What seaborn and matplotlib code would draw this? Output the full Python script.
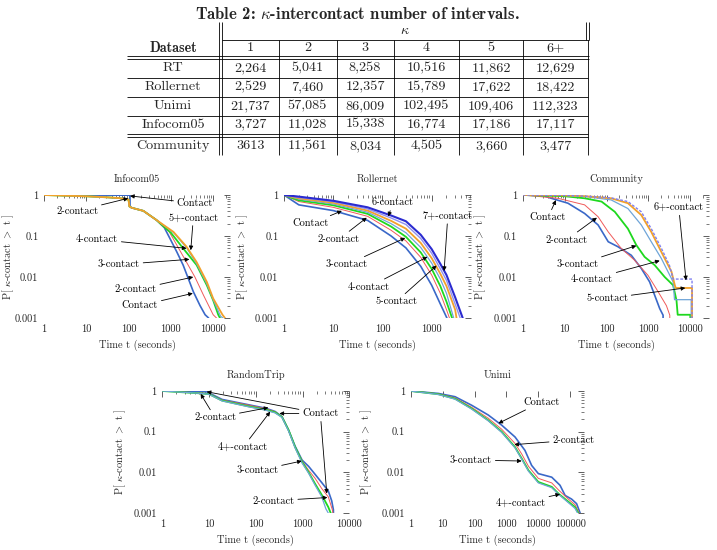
import numpy as np
import matplotlib
matplotlib.use('Agg')
import matplotlib.pyplot as plt
import seaborn as sns
from matplotlib.ticker import LogLocator, NullFormatter

# ---- table ----
table_title = r'Table 2: $\kappa$-intercontact number of intervals.'
table_datasets = ['RT', 'Rollernet', 'Unimi', 'Infocom05', 'Community']
table_kappa = ['1', '2', '3', '4', '5', '6+']
table_rt = ['2,264', '5,041', '8,258', '10,516', '11,862', '12,629']
table_rollernet = ['2,529', '7,460', '12,357', '15,789', '17,622', '18,422']
table_unimi = ['21,737', '57,085', '86,009', '102,495', '109,406', '112,323']
table_infocom = ['3,727', '11,028', '15,338', '16,774', '17,186', '17,117']
table_community = ['3613', '11,561', '8,034', '4,505', '3,660', '3,477']

# ---- Infocom05 curves (t seconds, P[k-contact > t]) ----
info_t1 = [1, 100, 108, 108, 117, 224, 457, 700, 950, 1380, 1950, 3390, 4900, 6450, 7800, 7800]
info_p1 = [1, 0.99, 0.99, 0.53, 0.49, 0.41, 0.245, 0.16, 0.087, 0.041, 0.0195, 0.0044, 0.002, 0.0012, 0.001, 0.0001]
info_t2 = [1, 10, 30, 60, 100, 104, 117, 224, 457, 900, 1620, 3700, 5900, 10000, 12000, 12000]
info_p2 = [1, 0.93, 0.88, 0.84, 0.77, 0.53, 0.49, 0.41, 0.245, 0.13, 0.045, 0.01, 0.0036, 0.0012, 0.001, 0.0001]
info_t3 = [1, 10, 30, 60, 100, 104, 117, 224, 457, 1000, 1950, 4070, 7080, 10000, 13200, 14500, 14500]
info_p3 = [1, 0.93, 0.88, 0.84, 0.77, 0.53, 0.49, 0.41, 0.245, 0.12, 0.05, 0.0195, 0.0063, 0.0027, 0.0012, 0.001, 0.0001]
info_t4 = [1, 10, 30, 60, 100, 104, 117, 224, 457, 1150, 2340, 4070, 7080, 10000, 15000, 17000, 17000]
info_p4 = [1, 0.93, 0.88, 0.84, 0.77, 0.53, 0.49, 0.41, 0.245, 0.122, 0.052, 0.021, 0.0068, 0.0028, 0.0011, 0.001, 0.0001]
info_t5 = [1, 10, 30, 60, 100, 104, 117, 224, 457, 1150, 2340, 4070, 7080, 10000, 16600, 19000, 19000]
info_p5 = [1, 0.93, 0.88, 0.84, 0.77, 0.53, 0.49, 0.41, 0.245, 0.126, 0.055, 0.023, 0.0076, 0.003, 0.0012, 0.001, 0.0001]

# ---- Rollernet curves ----
roll_t1 = [1, 2, 10, 50, 150, 300, 600, 1000, 1500, 2040, 2040]
roll_p1 = [1, 0.575, 0.417, 0.24, 0.1, 0.0513, 0.0182, 0.0063, 0.0022, 0.001, 0.0001]
roll_t2 = [1, 2, 10, 50, 150, 300, 600, 1000, 1500, 2000, 2300, 2300]
roll_p2 = [1, 0.692, 0.501, 0.302, 0.138, 0.0759, 0.0302, 0.0112, 0.004, 0.0016, 0.001, 0.0001]
roll_t3 = [1, 2, 10, 50, 150, 300, 600, 1000, 1500, 2000, 2600, 2600]
roll_p3 = [1, 0.741, 0.562, 0.347, 0.17, 0.0955, 0.0398, 0.0158, 0.006, 0.0025, 0.001, 0.0001]
roll_t4 = [1, 2, 10, 50, 150, 300, 600, 1000, 1500, 2000, 2800, 2800]
roll_p4 = [1, 0.794, 0.603, 0.38, 0.2, 0.12, 0.0525, 0.0219, 0.0089, 0.004, 0.001, 0.0001]
roll_t5 = [1, 2, 10, 50, 150, 300, 600, 1000, 1500, 2000, 3000, 3200, 3200]
roll_p5 = [1, 0.832, 0.646, 0.417, 0.234, 0.151, 0.0676, 0.0288, 0.012, 0.006, 0.0016, 0.001, 0.0001]
roll_t6 = [1, 2, 10, 50, 150, 300, 600, 1000, 1500, 2000, 3000, 3800, 3800]
roll_p6 = [1, 0.871, 0.692, 0.457, 0.275, 0.191, 0.087, 0.038, 0.0158, 0.0083, 0.0022, 0.001, 0.0001]
roll_t7 = [1, 2, 10, 50, 150, 300, 600, 1000, 1500, 2000, 3000, 4270, 4270]
roll_p7 = [1, 0.912, 0.724, 0.501, 0.316, 0.229, 0.107, 0.0479, 0.0209, 0.0112, 0.0032, 0.001, 0.0001]

# ---- Community curves ----
comm_t1 = [1, 3.2, 4.8, 12, 30, 63, 110, 186, 390, 676, 1070, 1410, 1860, 2240, 2240]
comm_p1 = [1, 0.955, 0.832, 0.631, 0.355, 0.186, 0.0724, 0.055, 0.0339, 0.0162, 0.0076, 0.0036, 0.0017, 0.00117, 0.0001]
comm_t2 = [1, 6.9, 30, 63, 110, 224, 468, 977, 1700, 2690, 3240, 3240]
comm_p2 = [1, 0.832, 0.575, 0.295, 0.126, 0.05, 0.0257, 0.011, 0.0044, 0.002, 0.00117, 0.0001]
comm_t3 = [1, 10, 30, 76, 158, 324, 513, 813, 1410, 2450, 3890, 4680, 5000, 10000, 10000]
comm_p3 = [1, 0.933, 0.832, 0.692, 0.389, 0.151, 0.0603, 0.0309, 0.0195, 0.01, 0.0063, 0.0027, 0.0012, 0.0012, 0.0001]
comm_t4 = [1, 10, 32, 129, 324, 676, 1170, 2040, 3890, 4200, 10500, 10500]
comm_p4 = [1, 0.977, 0.912, 0.759, 0.468, 0.186, 0.0724, 0.0282, 0.0076, 0.0028, 0.0028, 0.0001]
comm_t5 = [1, 10, 32, 129, 324, 676, 1170, 2040, 3550, 4270, 4500, 11000, 11000]
comm_p5 = [1, 0.977, 0.933, 0.832, 0.631, 0.324, 0.126, 0.0407, 0.0135, 0.0063, 0.0054, 0.0054, 0.0001]
comm_t6 = [1, 10, 32, 129, 324, 676, 1170, 2040, 3160, 3890, 11000, 11000]
comm_p6 = [1, 0.977, 0.933, 0.851, 0.692, 0.389, 0.151, 0.05, 0.0195, 0.0089, 0.0089, 0.0001]

# ---- RandomTrip curves ----
rt_t1 = [1, 6, 9, 19, 69, 158, 257, 363, 501, 692, 977, 1350, 1860, 2570, 3550, 4200, 4570, 4570]
rt_p1 = [1, 0.97, 0.95, 0.62, 0.46, 0.38, 0.315, 0.234, 0.11, 0.044, 0.02, 0.014, 0.0089, 0.0056, 0.0035, 0.002, 0.0012, 0.0001]
rt_t2 = [1, 6, 10, 19, 69, 158, 257, 363, 501, 692, 977, 1350, 1860, 2570, 3550, 4370, 4470, 4470]
rt_p2 = [1, 0.9, 0.86, 0.6, 0.45, 0.37, 0.31, 0.234, 0.11, 0.042, 0.019, 0.0112, 0.0071, 0.004, 0.0025, 0.00117, 0.001, 0.0001]
rt_t3 = [1, 6, 10, 19, 69, 158, 257, 363, 501, 692, 977, 1350, 1860, 2570, 3550, 4000, 4000]
rt_p3 = [1, 0.88, 0.84, 0.58, 0.42, 0.35, 0.3, 0.23, 0.11, 0.042, 0.018, 0.01, 0.0052, 0.0028, 0.0014, 0.001, 0.0001]
rt_t4 = [1, 6, 10, 19, 69, 158, 257, 363, 501, 692, 977, 1350, 1860, 2570, 3160, 3550, 3550]
rt_p4 = [1, 0.88, 0.83, 0.57, 0.41, 0.34, 0.29, 0.225, 0.105, 0.04, 0.017, 0.0095, 0.0048, 0.0025, 0.00126, 0.001, 0.0001]

# ---- Unimi curves ----
un_t1 = [1, 7.4, 24.5, 81, 269, 708, 1860, 3800, 6170, 10000, 26300, 47900, 69200, 110000, 158000, 204000, 204000]
un_p1 = [1, 0.87, 0.724, 0.447, 0.257, 0.145, 0.074, 0.0347, 0.0148, 0.0093, 0.0076, 0.0048, 0.0027, 0.0022, 0.0017, 0.001, 0.0001]
un_t2 = [1, 7.4, 24.5, 81, 269, 708, 1860, 3020, 4900, 10000, 26300, 42700, 87000, 141000, 190000, 190000]
un_p2 = [1, 0.851, 0.676, 0.398, 0.214, 0.115, 0.0513, 0.0282, 0.0141, 0.0071, 0.0055, 0.0037, 0.0022, 0.0016, 0.001, 0.0001]
un_t3 = [1, 7.4, 24.5, 81, 269, 708, 1860, 3020, 4900, 10000, 26300, 42700, 87000, 141000, 178000, 178000]
un_p3 = [1, 0.832, 0.646, 0.372, 0.191, 0.1, 0.0417, 0.0219, 0.0112, 0.0058, 0.0044, 0.003, 0.0019, 0.0014, 0.001, 0.0001]
un_t4 = [1, 7.4, 24.5, 81, 269, 708, 1860, 3020, 4900, 10000, 26300, 42700, 87000, 141000, 170000, 170000]
un_p4 = [1, 0.82, 0.63, 0.36, 0.185, 0.096, 0.04, 0.021, 0.0107, 0.0055, 0.0042, 0.0029, 0.0018, 0.0013, 0.001, 0.0001]

xtick_vals = [1, 10, 100, 1000, 10000, 100000]
xtick_labels = ['1', '10', '100', '1000', '10000', '100000']
ytick_vals = [0.001, 0.01, 0.1, 1]
ytick_labels = ['0.001', '0.01', '0.1', '1']

# line style per curve kind: colour, width, dash
styles = {
    'c1': ('#3a68c8', 1.2, '-'),
    'c2': ('#f05a5a', 0.7, '-'),
    'c3': ('#1ed81e', 1.3, '-'),
    'c4': ('#6fa5d8', 0.9, '-'),
    'c5': ('#f2a12a', 1.3, '-'),
    'c6': ('#9090f0', 1.0, '-'),
    'c7': ('#2b2bd0', 1.5, '-'),
    'c6d': ('#8080f0', 1.0, (0, (2, 1.2))),
}

sns.set_style('white')
plt.rcParams['font.family'] = ['cmr10', 'DejaVu Serif']
plt.rcParams['mathtext.fontset'] = 'cm'
plt.rcParams['axes.unicode_minus'] = False
BOLD = ['cmb10', 'DejaVu Serif']
FS = 7.5

fig = plt.figure(figsize=(7.17, 5.5), dpi=100)


def panel(rect, title, curves, xmax, notes, ylab_x):
    ax = fig.add_axes(rect)
    for t, p, key in curves:
        color, lw, ls = styles[key]
        sns.lineplot(x=t, y=p, ax=ax, color=color, lw=lw, ls=ls, estimator=None, sort=False)
    ax.set_xscale('log')
    ax.set_yscale('log')
    ax.set_xlim(1, xmax)
    ax.set_ylim(0.001, 1)
    xv = [v for v in xtick_vals if v <= xmax]
    ax.set_xticks(xv, labels=xtick_labels[:len(xv)])
    ax.set_yticks(ytick_vals, labels=ytick_labels)
    ax.xaxis.set_minor_locator(LogLocator(base=10, subs=np.arange(2, 10)))
    ax.yaxis.set_minor_locator(LogLocator(base=10, subs=np.arange(2, 10)))
    ax.xaxis.set_minor_formatter(NullFormatter())
    ax.yaxis.set_minor_formatter(NullFormatter())
    ax.tick_params(which='both', direction='in', top=True, right=True, color='#444444')
    ax.tick_params(which='major', length=4, width=0.6, labelsize=FS)
    ax.tick_params(axis='x', which='major', pad=5)
    ax.tick_params(axis='y', which='major', pad=4)
    ax.tick_params(which='minor', length=2, width=0.5)
    for s in ax.spines.values():
        s.set_visible(False)
    ax.set_title(title, fontsize=FS, pad=9)
    ax.set_xlabel('Time t (seconds)', fontsize=FS)
    ax.xaxis.set_label_coords(0.5, -0.175)
    ax.set_ylabel(r'P[ $\kappa$-contact $>$ t ]', fontsize=FS)
    ax.yaxis.set_label_coords(ylab_x, 0.5)
    for text, xyt, targets in notes:
        for i, xy in enumerate(targets):
            ax.annotate(text, xy=xy, xytext=xyt, ha='center', va='center', fontsize=FS,
                        color='k' if i == 0 else 'none', annotation_clip=False,
                        arrowprops=dict(arrowstyle='-|>', color='k', lw=0.6,
                                        mutation_scale=6, shrinkA=0, shrinkB=0))
    return ax


row1_b, row1_h = 1 - 318 / 550, 123 / 550
row2_b, row2_h = 1 - 513 / 550, 122 / 550

panel([44 / 717, row1_b, 186 / 717, row1_h], 'Infocom05',
      [(info_t1, info_p1, 'c1'), (info_t2, info_p2, 'c2'), (info_t3, info_p3, 'c3'),
       (info_t4, info_p4, 'c4'), (info_t5, info_p5, 'c5')],
      25000,
      [('Contact', (3700, 0.63), [(108, 0.95)]),
       ('2-contact', (6.1, 0.41), [(98, 0.83)]),
       ('5+-contact', (3400, 0.28), [(2950, 0.045)]),
       ('4-contact', (18, 0.083), [(2350, 0.05)]),
       ('3-contact', (59, 0.02), [(2740, 0.027)]),
       ('2-contact', (147, 0.0049), [(3380, 0.01)]),
       ('Contact', (186, 0.002), [(3300, 0.004)])],
      -0.15)

panel([284 / 717, row1_b, 187 / 717, row1_h], 'Rollernet',
      [(roll_t1, roll_p1, 'c1'), (roll_t2, roll_p2, 'c2'), (roll_t3, roll_p3, 'c3'),
       (roll_t4, roll_p4, 'c4'), (roll_t5, roll_p5, 'c5'), (roll_t6, roll_p6, 'c6'),
       (roll_t7, roll_p7, 'c7')],
      6300,
      [('6-contact', (162, 0.65), [(132, 0.3)]),
       ('Contact', (3.5, 0.2), [(15, 0.41)]),
       ('7+-contact', (2130, 0.31), [(1790, 0.014)]),
       ('2-contact', (13, 0.083), [(48, 0.28)]),
       ('3-contact', (19, 0.02), [(290, 0.09)]),
       ('4-contact', (53, 0.0057), [(820, 0.031)]),
       ('5-contact', (190, 0.0025), [(1260, 0.019)])],
      -0.18)

panel([522.7 / 717, row1_b, 186.6 / 717, row1_h], 'Community',
      [(comm_t1, comm_p1, 'c1'), (comm_t2, comm_p2, 'c2'), (comm_t3, comm_p3, 'c3'),
       (comm_t4, comm_p4, 'c4'), (comm_t5, comm_p5, 'c5'), (comm_t6, comm_p6, 'c6d')],
      28400,
      [('Contact', (4, 0.28), [(6.2, 0.75)]),
       ('2-contact', (11, 0.08), [(59, 0.28)]),
       ('3-contact', (20, 0.02), [(515, 0.058)]),
       ('4-contact', (45, 0.0089), [(1860, 0.025)]),
       ('5-contact', (103, 0.003), [(7600, 0.0054)]),
       ('6+-contact', (5300, 0.5), [(7900, 0.0083)])],
      -0.185)

panel([162.3 / 717, row2_b, 187 / 717, row2_h], 'RandomTrip',
      [(rt_t1, rt_p1, 'c1'), (rt_t2, rt_p2, 'c2'), (rt_t3, rt_p3, 'c3'), (rt_t4, rt_p4, 'c4')],
      10000,
      [('2-contact', (13.5, 0.22), [(6.6, 0.85), (186, 0.39)]),
       ('Contact', (2400, 0.28), [(8.9, 0.96), (320, 0.28), (3300, 0.003)]),
       ('4+-contact', (54, 0.042), [(203, 0.31)]),
       ('3-contact', (108, 0.011), [(960, 0.019)]),
       ('2-contact', (240, 0.002), [(3400, 0.0024)])],
      -0.186)

panel([410.7 / 717, row2_b, 173.3 / 717, row2_h], 'Unimi',
      [(un_t1, un_p1, 'c1'), (un_t2, un_p2, 'c2'), (un_t3, un_p3, 'c3'), (un_t4, un_p4, 'c4')],
      270000,
      [('Contact', (12800, 0.54), [(560, 0.16)]),
       ('2-contact', (125000, 0.062), [(1770, 0.048)]),
       ('3-contact', (78, 0.02), [(3000, 0.019)]),
       ('4+-contact', (2800, 0.0018), [(48000, 0.0029)])],
      -0.209)

# ---- table drawn in pixel coordinates of the top strip ----
tax = fig.add_axes([0, 1 - 160 / 550, 1, 160 / 550])
tax.set_xlim(0, 717)
tax.set_ylim(160, 0)
tax.axis('off')
TFS = 10.2
lk = dict(color='k', lw=0.6)

tax.text(357, 14, table_title, ha='center', va='center', fontsize=12, family=BOLD)
col_edges = [222, 278.5, 336.5, 393.6, 459, 523, 588]
row_mid = [68, 87.4, 106, 124.8, 146]
tax.text(405, 30.7, r'$\kappa$', ha='center', va='center', fontsize=TFS)
tax.text(173, 48, 'Dataset', ha='center', va='center', fontsize=TFS, family=BOLD)
for j, lab in enumerate(table_kappa):
    tax.text((col_edges[j] + col_edges[j + 1]) / 2, 48, lab, ha='center', va='center', fontsize=TFS)
rows = [table_rt, table_rollernet, table_unimi, table_infocom, table_community]
for i, (name, vals) in enumerate(zip(table_datasets, rows)):
    tax.text(173, row_mid[i], name, ha='center', va='center', fontsize=TFS)
    for j, v in enumerate(vals):
        tax.text((col_edges[j] + col_edges[j + 1]) / 2, row_mid[i], v, ha='center', va='center', fontsize=TFS)

tax.hlines(39.5, 222, 589, **lk)
tax.hlines([56.4, 58.6], 127, 589, **lk)
tax.hlines([77.7, 97, 115.5], 127, 588, **lk)
tax.hlines([134, 136.6], 127, 588, **lk)
tax.vlines([219, 222], 22, 155, **lk)
tax.vlines(col_edges[1:-1], 39.5, 155, **lk)
tax.vlines([585.5, 589], 22, 39.5, **lk)
tax.vlines(588, 39.5, 155, **lk)

fig.savefig('out.png', dpi=100)
